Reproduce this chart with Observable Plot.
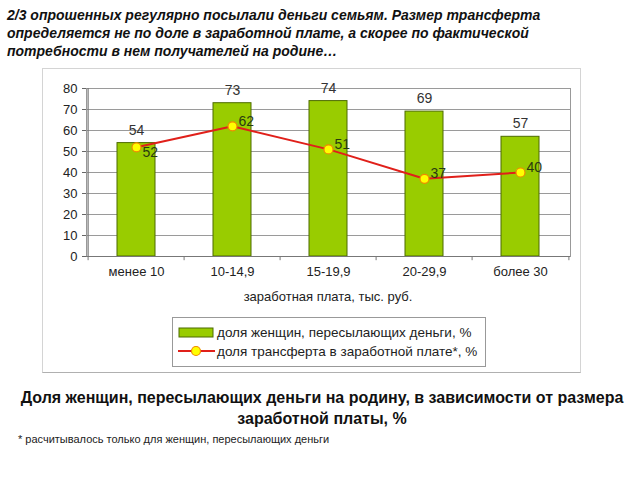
<!DOCTYPE html>
<html><head><meta charset="utf-8">
<script src="https://cdn.jsdelivr.net/npm/d3@7"></script>
<script src="https://cdn.jsdelivr.net/npm/@observablehq/plot@0.6"></script>
<style>
body{margin:0;background:#fff;font-family:"Liberation Sans",Arial,sans-serif;}
#wrap{position:relative;width:640px;height:480px;overflow:hidden;}
#wrap > svg{position:absolute;left:0;top:0;}
.t{position:absolute;white-space:nowrap;color:#111;}
#head{left:7px;top:6px;font-size:14px;font-weight:bold;font-style:italic;line-height:18px;}
#frame{position:absolute;left:42px;top:68px;width:537px;height:303px;border:1px solid #d4d4d4;border-bottom-color:#b0b0b0;}
#legend{position:absolute;left:172px;top:317px;width:312px;height:48px;border:1px solid #999;background:#fff;font-size:13.5px;color:#222;z-index:2;}
#legend .row{position:absolute;left:4px;height:16px;line-height:16px;}
#legend .row svg{vertical-align:middle;position:relative;top:-1px;}
#title{left:0;width:644px;top:387px;text-align:center;font-size:16px;font-weight:bold;line-height:21px;white-space:normal;}
#foot{left:18px;top:433px;font-size:11px;color:#222;}
#xlab{left:0;width:656px;top:289px;text-align:center;font-size:13px;color:#222;}
</style></head>
<body>
<div id="wrap">
  <div id="frame"></div>
  <div id="head" class="t">2/3 опрошенных регулярно посылали деньги семьям. Размер трансферта<br>определяется не по доле в заработной плате, а скорее по фактической<br>потребности в нем получателей на родине…</div>
  <div id="legend"></div>
  <div id="xlab" class="t">заработная плата, тыс. руб.</div>
  <div id="title" class="t">Доля женщин, пересылающих деньги на родину, в зависимости от размера<br>заработной платы, %</div>
  <div id="foot" class="t">* расчитывалось только для женщин, пересылающих деньги</div>
</div>
<script>
const categories = ["менее 10", "10-14,9", "15-19,9", "20-29,9", "более 30"];
const womenShare = [54, 73, 74, 69, 57];
const transferShare = [52, 62, 51, 37, 40];
const yTicks = [0, 10, 20, 30, 40, 50, 60, 70, 80];
const seriesNames = ["доля женщин, пересылающих деньги, %", "доля трансферта в заработной плате*, %"];

const rows = categories.map((c, i) => ({cat: c, women: womenShare[i], transfer: transferShare[i], i}));

const barFill = "#99cc00", barStroke = "#4d6b00", lineColor = "#e0201a", dotFill = "#ffff00", dotStroke = "#f08a00";

const W = 640, mL = 86, mR = 70;
const halfStep = (W - mL - mR) / categories.length / 2;

const chart = Plot.plot({
  width: W, height: 480,
  marginLeft: mL, marginRight: mR, marginTop: 88, marginBottom: 224,
  style: {fontFamily: "Liberation Sans, Arial, sans-serif", fontSize: "13px", color: "#222", background: "transparent"},
  x: {type: "band", domain: categories, paddingInner: 0.6, paddingOuter: 0.3, label: null, axis: null},
  y: {domain: [0, 80], ticks: yTicks, label: null, axis: null},
  marks: [
    Plot.frame({stroke: "#999"}),
    Plot.ruleY(yTicks.filter(d => d > 0), {stroke: "#9a9a9a", strokeWidth: 1}),
    Plot.axisY({ticks: yTicks, tickSize: 4, tickPadding: 5, fontSize: 13, label: null, stroke: "#666"}),
    Plot.barY(rows, {x: "cat", y: "women", fill: barFill, stroke: barStroke, strokeWidth: 1}),
    Plot.ruleY([0], {stroke: "#777", strokeWidth: 1.2}),
    // left axis line and category-boundary ticks
    Plot.ruleX([categories[0]], {x: d => d, y1: 0, y2: 80, dx: -halfStep, stroke: "#777", strokeWidth: 1.2}),
    Plot.ruleX(categories, {x: d => d, y1: 0, y2: -2, dx: -halfStep, stroke: "#777"}),
    Plot.ruleX([categories[categories.length - 1]], {x: d => d, y1: 0, y2: -2, dx: halfStep, stroke: "#777"}),
    Plot.axisX({tickSize: 0, tickPadding: 10, fontSize: 13, label: null}),
    Plot.text(rows, {x: "cat", y: "women", text: d => String(d.women), dy: -13, fontSize: 14, fill: "#333"}),
    Plot.line(rows, {x: "cat", y: "transfer", stroke: lineColor, strokeWidth: 2}),
    Plot.dot(rows, {x: "cat", y: "transfer", r: 4.5, fill: dotFill, stroke: dotStroke, strokeWidth: 1.2}),
    Plot.text(rows.filter(d => d.i === 0), {x: "cat", y: "transfer", text: d => String(d.transfer), textAnchor: "start", dx: 6, dy: 5, fontSize: 14, fill: "#2a3a10"}),
    Plot.text(rows.filter(d => d.i > 0), {x: "cat", y: "transfer", text: d => String(d.transfer), textAnchor: "start", dx: 6, dy: -5, fontSize: 14, fill: "#2a3a10"})
  ]
});
document.getElementById("wrap").appendChild(chart);

// legend
const lg = document.getElementById("legend");
const swatches = [
  `<svg width="40" height="14"><rect x="2" y="3" width="34" height="9" fill="${barFill}" stroke="${barStroke}"/></svg>`,
  `<svg width="40" height="14"><line x1="1" x2="38" y1="7" y2="7" stroke="${lineColor}" stroke-width="2"/><circle cx="19" cy="7" r="4.5" fill="${dotFill}" stroke="${dotStroke}" stroke-width="1.2"/></svg>`
];
seriesNames.forEach((n, i) => {
  const r = document.createElement("div");
  r.className = "row";
  r.style.top = (i === 0 ? 7 : 26) + "px";
  r.innerHTML = swatches[i] + n;
  lg.appendChild(r);
});
</script>
</body></html>
